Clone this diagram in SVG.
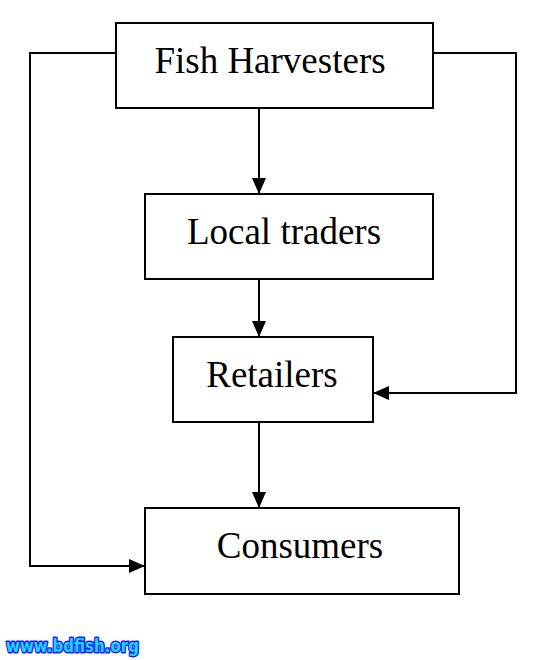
<svg xmlns="http://www.w3.org/2000/svg" width="550" height="660" viewBox="0 0 550 660">
<style>
.box{fill:#fff;stroke:#000;stroke-width:2}
.lbl{font-family:"Liberation Serif","Times New Roman",serif;font-size:37px;fill:#000;text-anchor:middle}
.con{fill:none;stroke:#000;stroke-width:2}
.wm{font-family:"DejaVu Sans",sans-serif;font-weight:bold;font-size:18px;fill:#19d7ff;stroke:#1a1aff;stroke-width:3;paint-order:stroke;stroke-linejoin:round}
</style>
<defs>
<marker id="ah" viewBox="0 0 16 14" refX="16" refY="7" markerWidth="16" markerHeight="14" markerUnits="userSpaceOnUse" orient="auto">
<path d="M0,0 L16,7 L0,14 Z" fill="#000"/>
</marker>
</defs>
<rect width="550" height="660" fill="#fff"/>
<g id="connectors">
<line class="con" x1="259" y1="108" x2="259" y2="194" marker-end="url(#ah)"/>
<line class="con" x1="259" y1="279" x2="259" y2="337" marker-end="url(#ah)"/>
<line class="con" x1="259" y1="422" x2="259" y2="508" marker-end="url(#ah)"/>
<polyline class="con" points="116,53 30,53 30,566 145,566" marker-end="url(#ah)"/>
<polyline class="con" points="433,53 516,53 516,393 373,393" marker-end="url(#ah)"/>
</g>
<g id="fish-harvesters">
<rect class="box" x="116" y="23" width="317" height="85"/>
<text class="lbl" x="270" y="73">Fish Harvesters</text>
</g>
<g id="local-traders">
<rect class="box" x="145" y="194" width="288" height="85"/>
<text class="lbl" x="284" y="244">Local traders</text>
</g>
<g id="retailers">
<rect class="box" x="173" y="337" width="200" height="85"/>
<text class="lbl" x="272" y="387">Retailers</text>
</g>
<g id="consumers">
<rect class="box" x="145" y="508" width="314" height="86"/>
<text class="lbl" x="300" y="558">Consumers</text>
</g>
<text class="wm" x="6" y="652" textLength="133" lengthAdjust="spacingAndGlyphs">www.bdfish.org</text>
</svg>
